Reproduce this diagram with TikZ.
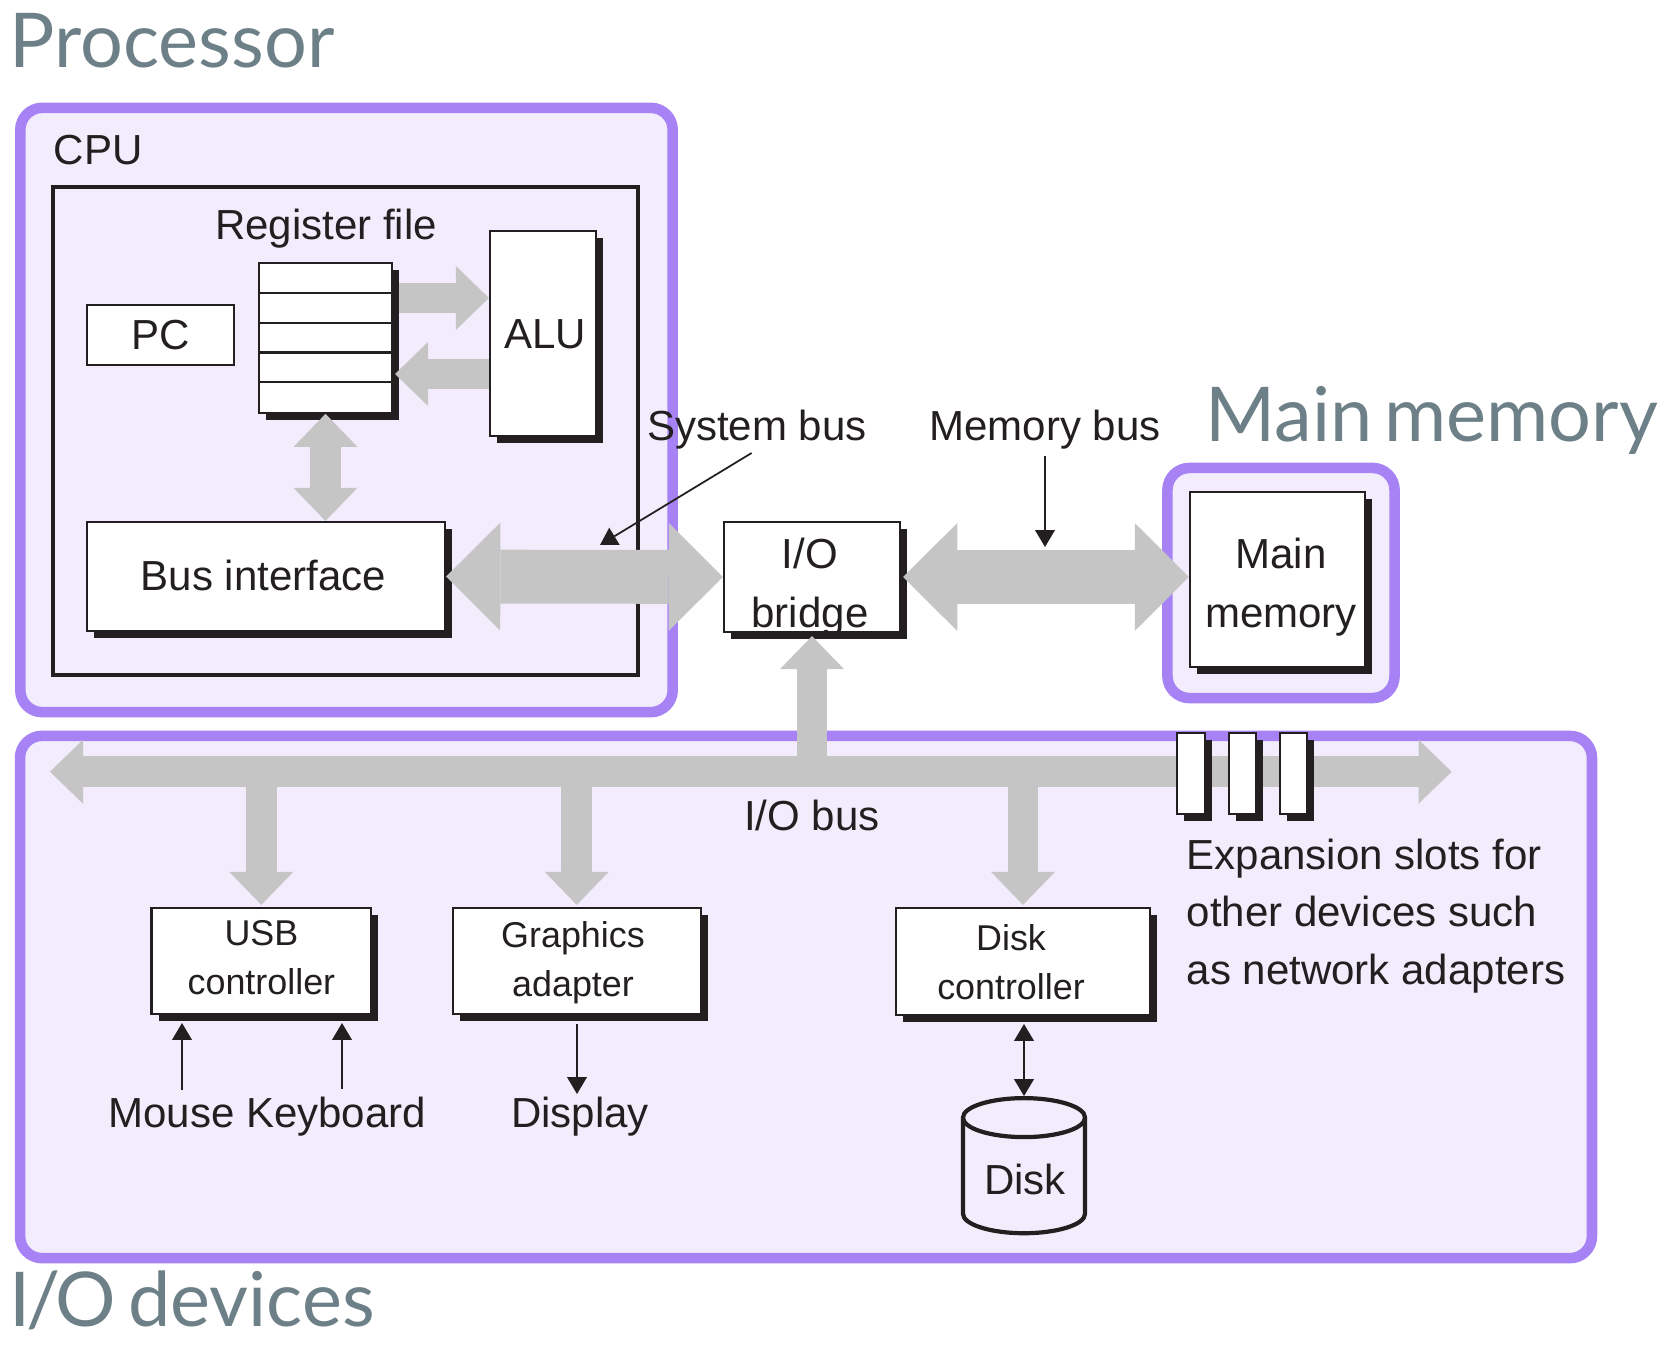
\documentclass[tikz,border=0pt]{standalone}
\usepackage{fontspec}
\setmainfont{Liberation Sans}
\newfontfamily\headfont[WordSpace=0.6]{Lato}
\usepackage{xcolor}
\usetikzlibrary{arrows.meta, shapes.geometric, shadows}

\definecolor{groupline}{HTML}{A782F5}
\definecolor{groupfill}{HTML}{F3ECFD}
\definecolor{headcolor}{HTML}{6D8088}
\definecolor{busgrey}{HTML}{C5C5C5}
\definecolor{inkblack}{HTML}{231F20}

\tikzset{
	bustip/.tip={Triangle[length=9.4pt, width=18.2pt, line width=0pt]},
	bigtip/.tip={Triangle[length=15.4pt, width=30.7pt, line width=0pt]},
	thintip/.tip={Triangle[length=4.8pt, width=5.7pt, line width=0pt]},
	fatbus/.style={draw=busgrey, line width=8.8pt},
	bigbus/.style={draw=busgrey, line width=15.3pt},
	thinarrow/.style={draw=inkblack, line width=0.5pt},
	plainlabel/.style={text=inkblack, inner sep=2pt, align=center, font=\fontsize{11.95}{16.36}\selectfont},
	smalllabel/.style={text=inkblack, inner sep=0pt, align=center, font=\fontsize{10.2}{14}\selectfont},
	heading/.style={text=headcolor, anchor=base west, inner sep=0pt, font=\headfont\fontsize{21.5}{25}\selectfont},
	groupbox/.style={draw=groupline, fill=groupfill, line width=3pt, rounded corners=0.22cm, inner sep=0pt},
	plainbox/.style={draw=inkblack, fill=white, line width=0.6pt, inner sep=0pt, plainlabel},
	shadowbox/.style={plainbox, drop shadow={shadow xshift=0.07cm, shadow yshift=-0.07cm, fill=inkblack, opacity=1}},
}

\begin{document}
\begin{tikzpicture}[x=0.01cm, y=-0.01cm]
	\useasboundingbox (0,0) rectangle (1676,1346);

	\node[heading] (processorhead) at (9,68) {Processor};
	\node[heading] (memoryhead) at (1205,442) {Main memory};
	\node[heading] (devicehead) at (9,1326) {I\kern-1.3pt/\kern-1.3pt O devices};

	\node[groupbox, minimum width=6.52cm, minimum height=6.04cm] (procbox) at (346.5,410) {};
	\node[groupbox, minimum width=2.27cm, minimum height=2.30cm] (membox) at (1281,583) {};
	\node[groupbox, minimum width=15.71cm, minimum height=5.22cm] (iobox) at (806,997) {};

	\node[plainlabel, anchor=base west, inner sep=0pt] (cpulabel) at (53,165) {CPU};
	\node[draw=inkblack, line width=1.2pt, minimum width=5.84cm, minimum height=4.88cm, inner sep=0pt] (cpubox) at (345.5,431) {};
	\node[plainlabel, anchor=base] (regfilelabel) at (326,240) {Register file};

	\node[shadowbox, minimum width=1.33cm, minimum height=1.495cm] (regfile) at (325.5,338) {};
	\foreach \ypos in {293,323,352.5,382}
		\draw[draw=inkblack, line width=0.6pt] (regfile.west |- 0,\ypos) -- (regfile.east |- 0,\ypos);
	\node[plainbox, minimum width=1.47cm, minimum height=0.6cm] (pc) at (160.5,335) {PC};
	\node[shadowbox, minimum width=1.06cm, minimum height=2.055cm] (alu) at (543,333.5) {};
	\node[plainlabel, inner sep=0pt] (alutext) at (545,334) {ALU};
	\node[shadowbox, minimum width=3.58cm, minimum height=1.09cm] (busif) at (266,576.5) {};
	\node[plainlabel, inner sep=0pt] (bustext) at (263.5,575) {Bus interface};
	\node[shadowbox, minimum width=1.76cm, minimum height=1.1cm] (bridge) at (812,577) {};
	\node[shadowbox, minimum width=1.75cm, minimum height=1.75cm] (mainmem) at (1277.5,579.5) {};

	\begin{scope}[fatbus]
		\draw[-bustip] (399,298) -- (alu.west |- 0,298);
		\draw[-bustip] (alu.west |- 0,374) -- (395,374);
		\draw[bustip-bustip] (regfile.south) -- (regfile.south |- busif.north);
	\end{scope}

	\begin{scope}[bigbus]
		\draw[bigtip-bigtip] (busif.east) -- (bridge.west);
		\draw[bigtip-bigtip, shorten <=0.02cm] (bridge.east) -- (bridge.east -| mainmem.west);
	\end{scope}

	\node[plainlabel, inner sep=0pt] (bridgetext) at (810,587) {I/O\\[0.3pt]bridge};
	\node[plainlabel, inner sep=0pt] (mainmemtext) at (1281,587) {Main\\[0.6pt]memory};

	\node[plainlabel, anchor=base] (sysbus) at (757,440) {System bus};
	\node[plainlabel, anchor=base] (membus) at (1045,440) {Memory bus};
	\coordinate (sysfrom) at (751.6,453);
	\coordinate (systip) at (600,545);
	\coordinate (memtip) at (1046,547);
	\begin{scope}[thinarrow]
		\draw[-thintip] (sysfrom) -- (systip);
		\draw[-thintip] (membus.south) -- (membus.south |- memtip);
	\end{scope}

	\node[shadowbox, minimum width=2.194cm, minimum height=1.06cm] (usb) at (261.3,961) {};
	\node[shadowbox, minimum width=2.48cm, minimum height=1.06cm] (graphics) at (576.7,961) {};
	\node[shadowbox, minimum width=2.54cm, minimum height=1.07cm] (diskctrl) at (1023,961.5) {};
	\node[smalllabel] (usbtext) at (261.4,958) {USB\\controller};
	\node[smalllabel] (graphicstext) at (573,962.5) {Graphics\\adapter};
	\node[smalllabel] (diskctrltext) at (1011,962.5) {Disk\\controller};

	\coordinate (busleft) at (50,771.7);
	\coordinate (busright) at (1451.6,771.7);
	\begin{scope}[fatbus]
		\draw[bustip-bustip] (busleft) -- (busright);
		\draw[-bustip, shorten >=0.03cm] (bridge.south |- busleft) -- (bridge.south);
		\draw[-bustip, shorten >=0.02cm] (usb.north |- busleft) -- (usb.north);
		\draw[-bustip, shorten >=0.02cm] (graphics.north |- busleft) -- (graphics.north);
		\draw[-bustip, shorten >=0.02cm] (diskctrl.north |- busleft) -- (diskctrl.north);
	\end{scope}

	\foreach \i/\xpos in {1/1191,2/1242.4,3/1293.5}
		\node[shadowbox, minimum width=0.275cm, minimum height=0.81cm] (slot\i) at (\xpos,773.5) {};

	\node[plainlabel, anchor=base] (iobus) at (812,830) {I/O bus};
	\node[plainlabel, anchor=west, inner sep=0pt, align=left] (slotlabel) at (1186,916) {Expansion slots for\\other devices such\\as network adapters};

	\node[plainlabel, anchor=base] (mouse) at (171.5,1127) {Mouse};
	\node[plainlabel, anchor=base] (keyboard) at (336,1127) {Keyboard};
	\node[plainlabel, anchor=base] (display) at (580,1127) {Display};
	\node[cylinder, shape border rotate=90, aspect=2.77, draw=inkblack, line width=1.2pt, minimum width=1.22cm, minimum height=1.35cm, inner sep=0pt, plainlabel] (disk) at (1024,1181) {};
	\node[plainlabel, inner sep=0pt] (disktext) at (1025,1179) {Disk};

	\coordinate (mousein) at (182,1023);
	\coordinate (keyin) at (342,1023);
	\coordinate (displayout) at (577,1024);
	\coordinate (displaytip) at (577,1094);
	\coordinate (disktop) at (1024,1024);
	\begin{scope}[thinarrow]
		\draw[-thintip] (mousein |- mouse.north) -- (mousein);
		\draw[-thintip] (keyin |- keyboard.north) -- (keyin);
		\draw[-thintip] (displayout) -- (displaytip);
		\draw[thintip-thintip] (disktop) -- (disk.north);
	\end{scope}
\end{tikzpicture}
\end{document}
